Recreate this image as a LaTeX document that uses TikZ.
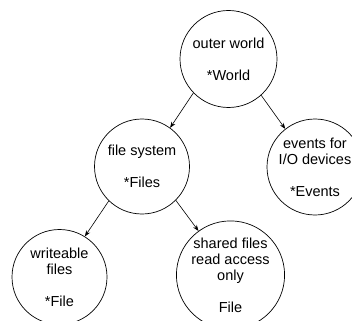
\documentclass[tikz,border=0pt]{standalone}
\usepackage{fontspec}
\setmainfont{Liberation Sans}
\usetikzlibrary{arrows.meta}
\begin{document}
\begin{tikzpicture}[x=1pt,y=1pt,
  bubble/.style={circle,draw,line width=0.7pt,inner sep=0pt,align=center,
    font=\fontsize{14.5}{16}\selectfont},
  link/.style={line width=0.6pt,-{Stealth[length=6pt,width=4.5pt]}}]
\useasboundingbox (0,0) rectangle (352,-320);
\node[bubble,minimum size=97pt] (ow) at (228.5,-59) {outer world\\[16pt]*World};
\node[bubble,minimum size=95pt] (fs) at (142,-166.5) {file system\\[16pt]*Files};
\node[bubble,minimum size=96pt] (ev) at (315,-167) {events for\\I/O devices\\[16pt]*Events};
\node[bubble,minimum size=95pt] (wf) at (59.5,-277) {writeable\\files\\[16pt]*File};
\node[bubble,minimum size=92pt] (sh) at (230.5,-275) {shared files\\read access\\only\\[16pt]File};
\draw[link] (ow.224.6) -- (fs.54.5);
\draw[link] (ow.312) -- (ev.128);
\draw[link] (fs.226) -- (wf.58);
\draw[link] (fs.315.4) -- (sh.126);
\end{tikzpicture}
\end{document}
